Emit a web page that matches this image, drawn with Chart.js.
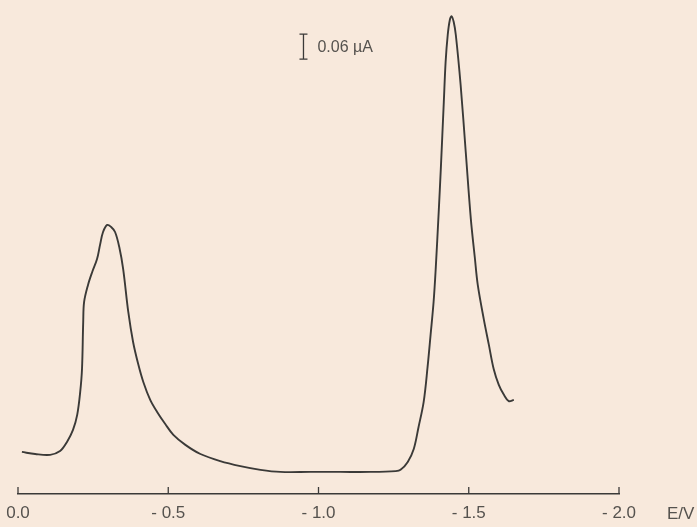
<!DOCTYPE html>
<html>
<head>
<meta charset="utf-8">
<script src="https://cdn.jsdelivr.net/npm/chart.js@4.4.1/dist/chart.umd.min.js"></script>
<style>
  html, body { margin: 0; padding: 0; background: #f8e9dc; }
  #wrap { position: relative; width: 697px; height: 527px; }
</style>
</head>
<body>
<div id="wrap"><canvas id="chart"></canvas></div>
<script>
// potential E / V
const potentialE = [
  -0.013, -0.057, -0.107, -0.14, -0.163, -0.183, -0.197, -0.207, -0.213, -0.217,
  -0.22, -0.233, -0.247, -0.263, -0.273, -0.283, -0.297, -0.31, -0.323, -0.337,
  -0.35, -0.367, -0.383, -0.4, -0.417, -0.44, -0.463, -0.49, -0.517, -0.557,
  -0.607, -0.673, -0.74, -0.807, -0.873, -0.973, -1.073, -1.173, -1.257, -1.273,
  -1.297, -1.317, -1.333, -1.35, -1.363, -1.373, -1.383, -1.39, -1.4, -1.407,
  -1.417, -1.423, -1.43, -1.437, -1.443, -1.45, -1.457, -1.473, -1.49, -1.507,
  -1.52, -1.53, -1.55, -1.567, -1.583, -1.6, -1.617, -1.633, -1.65
];
// current / µA above the axis line
const currentI = [
  0.101, 0.096, 0.094, 0.103, 0.125, 0.154, 0.190, 0.245, 0.300, 0.413,
  0.461, 0.502, 0.533, 0.564, 0.598, 0.629, 0.646, 0.641, 0.629, 0.593,
  0.540, 0.437, 0.365, 0.312, 0.269, 0.226, 0.197, 0.168, 0.142, 0.118,
  0.096, 0.079, 0.067, 0.058, 0.053, 0.053, 0.053, 0.053, 0.055, 0.058,
  0.077, 0.108, 0.161, 0.221, 0.305, 0.382, 0.461, 0.540, 0.677, 0.780,
  0.941, 1.037, 1.102, 1.138, 1.147, 1.133, 1.102, 0.982, 0.821, 0.660,
  0.569, 0.502, 0.420, 0.358, 0.300, 0.262, 0.238, 0.223, 0.226
];
const tickValues = [0, -0.5, -1.0, -1.5, -2.0];
const tickLabels = ['0.0', '- 0.5', '- 1.0', '- 1.5', '- 2.0'];
const scaleBar = { e: -0.95, i0: 1.044, di: 0.06, label: '0.06 µA' };

const ink = '#3b3a38';
const textInk = '#55524e';
const font = '"Liberation Sans", Arial, sans-serif';

const decor = {
  id: 'decor',
  afterDraw(chart) {
    const { ctx, scales: { x, y }, chartArea } = chart;
    ctx.save();
    ctx.strokeStyle = ink;
    ctx.lineWidth = 1.3;
    // upward tick marks on the axis
    tickValues.forEach(v => {
      const px = x.getPixelForValue(v);
      ctx.beginPath();
      ctx.moveTo(px, chartArea.bottom);
      ctx.lineTo(px, chartArea.bottom - 7);
      ctx.stroke();
    });
    // scale bar
    const bx = x.getPixelForValue(scaleBar.e);
    const yTop = y.getPixelForValue(scaleBar.i0 + scaleBar.di);
    const yBot = y.getPixelForValue(scaleBar.i0);
    ctx.beginPath();
    ctx.moveTo(bx, yTop); ctx.lineTo(bx, yBot);
    ctx.moveTo(bx - 4, yTop); ctx.lineTo(bx + 4, yTop);
    ctx.moveTo(bx - 4, yBot); ctx.lineTo(bx + 4, yBot);
    ctx.stroke();
    ctx.fillStyle = textInk;
    ctx.font = '16px ' + font;
    ctx.textBaseline = 'middle';
    ctx.fillText(scaleBar.label, bx + 14, (yTop + yBot) / 2 + 1);
    // axis unit
    ctx.font = '17px ' + font;
    ctx.fillText('E/V', x.getPixelForValue(-2.0) + 48, chartArea.bottom + 20);
    ctx.restore();
  }
};

new Chart(document.getElementById('chart'), {
  type: 'line',
  data: {
    datasets: [{
      data: potentialE.map((e, i) => ({ x: e, y: currentI[i] })),
      borderColor: ink,
      borderWidth: 1.9,
      pointRadius: 0,
      tension: 0.35,
      fill: false,
    }],
  },
  options: {
    responsive: true, maintainAspectRatio: false, animation: false,
    layout: { padding: { left: 18, right: 78, top: 0, bottom: 0 } },
    plugins: { legend: { display: false }, tooltip: { enabled: false } },
    scales: {
      x: {
        type: 'linear', min: -2.0, max: 0, reverse: true,
        afterBuildTicks: s => { s.ticks = tickValues.map(v => ({ value: v })); },
        afterFit: s => { s.height = 33; s.paddingLeft = 0; s.paddingRight = 0; },
        ticks: {
          color: textInk, padding: 9, maxRotation: 0, autoSkip: false,
          font: { family: font, size: 17 },
          callback: v => tickLabels[tickValues.indexOf(v)] ?? '',
        },
        grid: { display: false, drawTicks: false },
        border: { display: true, color: ink, width: 1.6 },
      },
      y: { display: false, min: 0, max: 1.186 },
    },
  },
  plugins: [decor],
});
</script>
</body>
</html>
